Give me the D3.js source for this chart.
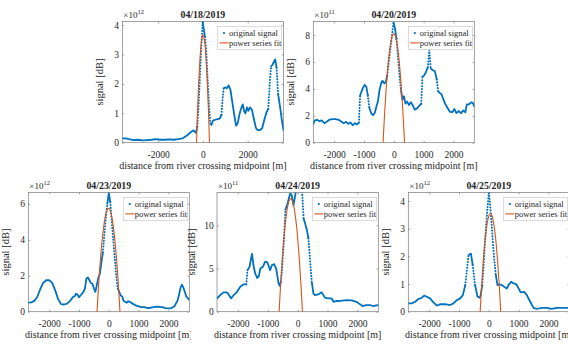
<!DOCTYPE html>
<meta charset="utf-8">
<script src="https://cdn.jsdelivr.net/npm/d3@7"></script>
<style>
  body { margin: 0; background: #fff; }
  svg text { font-family: "Liberation Serif", "Times New Roman", serif; fill: #262626; }
</style>
<div id="chart"></div>
<script>
  // ---- data ----
  const dates = ["04/18/2019", "04/20/2019", "04/23/2019", "04/24/2019", "04/25/2019"]
  const exponents = [12, 11, 12, 11, 12]
  const xLimits = [3600, 2700, 2700, 2700, 2700]
  const yLimits = [4.12, 9, 6.63, 13.8, 4.31]
  const xTicks = [
    [-2000, 0, 2000],
    [-2000, -1000, 0, 1000, 2000],
    [-2000, -1000, 0, 1000, 2000],
    [-2000, -1000, 0, 1000, 2000],
    [-2000, -1000, 0, 1000, 2000]
  ]
  const yTicks = [[0, 1, 2, 3, 4], [0, 2, 4, 6, 8], [0, 2, 4, 6], [0, 5, 10], [0, 1, 2, 3, 4]]
  const legendLabels = ["original signal", "power series fit"]
  const xLabel = "distance from river crossing midpoint [m]"
  const yLabel = "signal [dB]"

  // 04/18
  const dist0418 = [-3600, -3450, -3300, -3100, -2900, -2700, -2500, -2300, -2100, -1900, -1700, -1500, -1300, -1100, -1000,
    -900, -800, -700, -600, -500, -420, -370, -310, -250, -190, -130, -90, -40, -10, 40,
    90, 150, 200, 270, 330, 380, 450, 550, 650, 750, 830, 880, 930, 1000, 1070,
    1150, 1230, 1300, 1400, 1480, 1550, 1630, 1700, 1780, 1850, 1900, 1970, 2030, 2100, 2190,
    2270, 2370, 2450, 2550, 2650, 2750, 2850, 2920, 3000, 3050, 3110, 3190, 3230, 3290, 3360,
    3450, 3520, 3600]
  const sig0418 = [0.15, 0.15, 0.12, 0.09, 0.1, 0.08, 0.09, 0.1, 0.12, 0.1, 0.1, 0.11, 0.1, 0.12, 0.14,
    0.15, 0.2, 0.25, 0.32, 0.38, 0.42, 0.38, 0.33, 0.55, 1.3, 2.3, 3.0, 3.7, 4.1, 3.86,
    3.6, 3.12, 2.32, 1.3, 0.66, 0.6, 0.75, 0.78, 0.8, 0.82, 0.95, 1.5, 1.85, 1.88, 1.85,
    1.95, 1.8, 1.45, 0.95, 0.58, 0.65, 0.95, 1.15, 1.3, 1.05, 1.0, 1.2, 1.08, 1.2, 1.12,
    0.83, 0.5, 0.43, 0.43, 0.5, 0.8, 1.05, 1.15, 2.2, 2.6, 2.65, 2.78, 2.83, 2.55, 1.65,
    1.2, 0.8, 0.42]
  const fitDist0418 = [-290, -250, -200, -150, -100, -50, 0, 50, 100, 150, 200, 250, 300]
  const fit0418 = [-0.13, 0.83, 1.83, 2.61, 3.17, 3.52, 3.65, 3.56, 3.26, 2.74, 2.0, 1.05, -0.13]

  // 04/20
  const dist0420 = [-2700, -2650, -2580, -2500, -2420, -2330, -2250, -2150, -2050, -1950, -1850, -1750, -1680, -1600, -1530,
    -1450, -1380, -1300, -1230, -1170, -1130, -1050, -980, -920, -870, -820, -760, -700, -640, -580,
    -530, -480, -420, -380, -320, -270, -220, -170, -120, -60, -10, 40, 90, 140, 190,
    240, 290, 340, 390, 450, 510, 570, 630, 700, 780, 860, 920, 960, 1020, 1080,
    1140, 1190, 1240, 1300, 1380, 1440, 1490, 1540, 1600, 1650, 1720, 1800, 1880, 1960, 2030,
    2100, 2180, 2250, 2330, 2400, 2450, 2520, 2600, 2650, 2700]
  const sig0420 = [1.4, 1.65, 1.7, 1.6, 1.65, 1.45, 1.55, 1.72, 1.75, 1.75, 1.7, 1.55, 1.45, 1.55, 1.4,
    1.5, 1.3, 1.45, 1.35, 1.5, 3.5, 4.0, 4.3, 4.15, 3.5, 2.6, 2.2, 2.05, 2.2, 2.7,
    3.1, 3.9, 4.45, 4.6, 4.4, 4.5, 5.0, 6.0, 6.9, 8.0, 8.9, 8.5, 7.7, 6.4, 5.0,
    3.9, 3.2, 3.45, 2.9, 3.05, 2.8, 3.0, 2.8, 2.45, 2.55, 2.75, 2.9, 4.9, 5.0, 5.25,
    5.6, 6.9, 5.5, 5.4, 5.3, 4.7, 3.8, 3.7, 3.6, 3.3, 2.9, 2.6, 2.3, 2.25, 2.5,
    2.2, 2.35, 2.2, 2.4, 2.25, 2.85, 2.85, 3.0, 2.95, 2.7]
  const fitDist0420 = [-380, -350, -300, -250, -200, -150, -100, -50, 0, 50, 100, 150, 200, 250, 300, 350, 380]
  const fit0420 = [-0.93, 0.45, 2.48, 4.19, 5.6, 6.69, 7.48, 7.94, 8.1, 7.94, 7.48, 6.69, 5.6, 4.19, 2.48, 0.45, -0.93]

  // 04/23
  const dist0423 = [-2700, -2600, -2500, -2400, -2300, -2200, -2100, -2000, -1900, -1800, -1700, -1600, -1500, -1400, -1300,
    -1200, -1150, -1100, -1050, -1000, -950, -850, -800, -750, -700, -650, -600, -550, -500, -450,
    -400, -350, -300, -250, -200, -150, -100, -50, 0, 50, 100, 150, 200, 250, 300,
    350, 400, 450, 500, 600, 650, 700, 800, 900, 1000, 1100, 1200, 1300, 1400, 1500,
    1600, 1700, 1800, 1900, 2000, 2100, 2200, 2300, 2350, 2400, 2450, 2500, 2550, 2600, 2700]
  const sig0423 = [0.5, 0.52, 0.6, 0.82, 1.25, 1.6, 1.75, 1.75, 1.6, 1.2, 0.7, 0.42, 0.4, 0.45, 0.6,
    0.82, 0.85, 1.0, 0.95, 0.8, 0.9, 1.1, 1.3, 1.85, 1.9, 1.75, 1.6, 1.55, 1.3, 1.1,
    1.5, 1.9, 2.1, 2.7, 3.3, 4.3, 5.2, 6.0, 6.6, 6.1, 5.0, 4.0, 3.0, 2.0, 1.3,
    1.1, 0.9, 0.85, 0.6, 0.5, 0.58, 0.55, 0.45, 0.35, 0.3, 0.25, 0.25, 0.2, 0.22, 0.25,
    0.28, 0.27, 0.25, 0.2, 0.18, 0.2, 0.3, 0.6, 0.9, 1.3, 1.5, 1.35, 1.1, 0.85, 0.65]
  const fitDist0423 = [-420, -350, -300, -250, -200, -150, -100, -50, 0, 50, 100, 150, 200, 250, 300, 350, 400]
  const fit0423 = [-0.77, 1.27, 2.49, 3.52, 4.35, 4.99, 5.44, 5.69, 5.75, 5.61, 5.28, 4.76, 4.04, 3.13, 2.02, 0.72, -0.77]

  // 04/24
  const dist0424 = [-2700, -2590, -2480, -2370, -2310, -2230, -2140, -2030, -1920, -1810, -1720, -1680, -1610, -1530, -1480,
    -1420, -1350, -1300, -1250, -1160, -1090, -1010, -920, -860, -790, -720, -640, -600, -560, -520,
    -450, -410, -340, -250, -200, -140, -80, -30, 60, 130, 160, 200, 250, 310, 360,
    420, 470, 530, 580, 690, 800, 920, 1030, 1140, 1200, 1310, 1470, 1640, 1810, 1970,
    2090, 2170, 2310, 2420, 2530, 2700]
  const sig0424 = [1.54, 1.93, 2.24, 2.24, 2.0, 1.54, 1.93, 2.3, 2.9, 3.17, 3.17, 4.8, 5.2, 6.7, 5.4,
    4.4, 3.9, 4.1, 5.0, 5.2, 5.8, 5.7, 4.8, 5.4, 5.5, 5.0, 3.3, 3.0, 3.5, 5.0,
    8.9, 11.8, 12.5, 13.7, 13.5, 12.3, 13.5, 14.8, 15.5, 14.2, 13.3, 10.8, 10.2, 9.45, 8.5,
    5.8, 3.5, 2.1, 1.93, 2.0, 2.25, 1.6, 1.54, 1.54, 1.15, 1.24, 1.27, 1.35, 1.3, 1.15,
    0.85, 0.66, 0.77, 0.77, 0.66, 0.77]
  const fitDist0424 = [-640, -600, -550, -500, -450, -400, -350, -300, -250, -200, -150, -100, -50, 0, 50, 100, 150, 180]
  const fit0424 = [-1.38, 1.31, 4.28, 6.82, 8.93, 10.61, 11.86, 12.68, 13.07, 13.02, 12.55, 11.64, 10.31, 8.54, 6.35, 3.72, 0.67, -1.38]

  // 04/25
  const dist0425 = [-2700, -2580, -2470, -2360, -2250, -2170, -2080, -1970, -1860, -1740, -1630, -1460, -1300, -1185, -1070,
    -960, -870, -790, -740, -680, -600, -540, -460, -380, -310, -270, -220, -180, -135, -90,
    -45, 0, 45, 90, 135, 180, 235, 290, 360, 440, 515, 600, 680, 750, 830,
    920, 1000, 1070, 1185, 1275, 1390, 1500, 1610, 1780, 1945, 2110, 2280, 2450, 2615, 2700]
  const sig0425 = [0.3, 0.3, 0.36, 0.46, 0.5, 0.58, 0.54, 0.48, 0.34, 0.22, 0.27, 0.27, 0.24, 0.3, 0.42,
    0.48, 0.6, 0.96, 1.45, 2.05, 2.1, 1.69, 0.96, 0.55, 0.5, 0.6, 0.96, 1.57, 2.41, 3.13,
    3.73, 4.3, 3.86, 3.25, 2.53, 1.93, 1.33, 0.96, 0.99, 0.96, 0.9, 0.84, 0.99, 1.08, 1.02,
    1.0, 0.84, 0.7, 0.72, 0.6, 0.36, 0.14, 0.1, 0.14, 0.14, 0.1, 0.14, 0.14, 0.14, 0.13]
  const fitDist0425 = [-300, -250, -200, -150, -100, -50, 0, 50, 100, 150, 200, 250, 300, 350, 400, 420]
  const fit0425 = [-0.21, 0.78, 1.61, 2.3, 2.83, 3.22, 3.46, 3.55, 3.49, 3.28, 2.92, 2.42, 1.76, 0.96, 0, -0.42]

  const series = [
    { dist: dist0418, sig: sig0418, fitDist: fitDist0418, fit: fit0418 },
    { dist: dist0420, sig: sig0420, fitDist: fitDist0420, fit: fit0420 },
    { dist: dist0423, sig: sig0423, fitDist: fitDist0423, fit: fit0423 },
    { dist: dist0424, sig: sig0424, fitDist: fitDist0424, fit: fit0424 },
    { dist: dist0425, sig: sig0425, fitDist: fitDist0425, fit: fit0425 }
  ]

  // ---- layout ----
  const panels = [
    { left: 122.3, top: 21.5, width: 161.2, height: 121.2, ylab: -19 },
    { left: 313.3, top: 21.5, width: 161, height: 121.2, ylab: -19 },
    { left: 28.3, top: 192.5, width: 161, height: 119.2, ylab: -19 },
    { left: 217, top: 192.5, width: 161.3, height: 119.2, ylab: -22 },
    { left: 408.3, top: 192.5, width: 161, height: 119.2, ylab: -19 }
  ]

  const blue = "#0072BD"
  const orange = "#D95319"
  const axisColor = "#7a7a7a"

  const svg = d3.select("#chart")
    .append("svg")
    .attr("width", 568)
    .attr("height", 344)

  panels.forEach((p, k) => {
    const s = series[k]
    const g = svg.append("g").attr("transform", `translate(${p.left},${p.top})`)

    // white figure background (later figures sit over earlier ones)
    g.append("rect")
      .attr("x", -26).attr("y", -22)
      .attr("width", p.width + 30).attr("height", p.height + 52)
      .attr("fill", "#fff")

    const x = d3.scaleLinear().domain([-xLimits[k], xLimits[k]]).range([0, p.width])
    const y = d3.scaleLinear().domain([0, yLimits[k]]).range([p.height, 0])

    // axes, ticks pointing inwards on all four sides
    const fmt = d => String(d)
    const bottom = g.append("g").attr("transform", `translate(0,${p.height})`)
      .call(d3.axisBottom(x).tickValues(xTicks[k]).tickSize(-1.8).tickPadding(8.2).tickFormat(fmt))
    const left = g.append("g")
      .call(d3.axisLeft(y).tickValues(yTicks[k]).tickSize(-1.8).tickPadding(3.2).tickFormat(fmt))
    const top = g.append("g")
      .call(d3.axisTop(x).tickValues(xTicks[k]).tickSize(-1.8).tickFormat(""))
    const right = g.append("g").attr("transform", `translate(${p.width},0)`)
      .call(d3.axisRight(y).tickValues(yTicks[k]).tickSize(-1.8).tickFormat(""))
    ;[bottom, left, top, right].forEach(a => {
      a.select(".domain").remove()
      a.selectAll("line").attr("stroke", axisColor).attr("stroke-width", 0.7)
      a.selectAll("text").style("font-size", "9.5px").attr("fill", "#262626")
    })

    g.append("rect")
      .attr("width", p.width).attr("height", p.height)
      .attr("fill", "none").attr("stroke", axisColor).attr("stroke-width", 0.7)

    // clipped plot area
    g.append("clipPath").attr("id", "clip" + k)
      .append("rect").attr("width", p.width).attr("height", p.height)
    const plot = g.append("g").attr("clip-path", `url(#clip${k})`)

    // original signal: solid where flat, dotted where the samples spread out
    const pts = s.dist.map((d, i) => [x(d), y(s.sig[i])])
    const runs = []
    for (let i = 1; i < pts.length; i++) {
      const dx = Math.abs(pts[i][0] - pts[i - 1][0])
      const dy = Math.abs(pts[i][1] - pts[i - 1][1])
      const steep = dy > 8 * dx && dy > 6
      const last = runs[runs.length - 1]
      if (last && last.steep === steep) last.pts.push(pts[i])
      else runs.push({ steep, pts: [pts[i - 1], pts[i]] })
    }
    const line = d3.line()
    runs.forEach(r => {
      plot.append("path")
        .attr("d", line(r.pts))
        .attr("fill", "none")
        .attr("stroke", blue)
        .attr("stroke-width", r.steep ? 2 : 1.8)
        .attr("stroke-linecap", "round")
        .attr("stroke-linejoin", "round")
        .attr("stroke-dasharray", r.steep ? "0.1 2.8" : null)
    })

    // power series fit
    plot.append("path")
      .attr("d", d3.line().curve(d3.curveNatural)(s.fitDist.map((d, i) => [x(d), y(s.fit[i])])))
      .attr("fill", "none")
      .attr("stroke", orange)
      .attr("stroke-width", 1.1)

    // legend
    const lg = g.append("g").attr("transform", `translate(${p.width - 66},4.8)`)
    lg.append("rect")
      .attr("width", 64).attr("height", 23.4)
      .attr("fill", "#fff").attr("stroke", "#c4c4c4").attr("stroke-width", 0.6)
    lg.append("circle").attr("cx", 6.5).attr("cy", 6.8).attr("r", 1.1).attr("fill", blue)
    lg.append("line").attr("x1", 2).attr("x2", 11).attr("y1", 16.6).attr("y2", 16.6)
      .attr("stroke", orange).attr("stroke-width", 1.1)
    legendLabels.forEach((t, i) => {
      lg.append("text")
        .attr("x", 11.5).attr("y", 6.8 + i * 9.8).attr("dy", "0.33em")
        .style("font-size", "8.5px")
        .text(t)
    })

    // title, exponent, axis labels
    g.append("text")
      .attr("x", p.width / 2).attr("y", -3.2)
      .attr("text-anchor", "middle")
      .style("font-size", "9.8px").style("font-weight", "bold")
      .text(dates[k])

    const ex = g.append("text").attr("x", 1).attr("y", -3.6).style("font-size", "9px")
    ex.append("tspan").text("\u00d710")
    ex.append("tspan").attr("dy", -3.6).style("font-size", "6.5px").text(exponents[k])

    g.append("text")
      .attr("x", p.width / 2).attr("y", p.height + 26.6)
      .attr("text-anchor", "middle")
      .style("font-size", "10px")
      .text(xLabel)

    g.append("text")
      .attr("transform", `translate(${p.ylab},${p.height / 2}) rotate(-90)`)
      .attr("text-anchor", "middle")
      .style("font-size", "10.5px")
      .text(yLabel)
  })
</script>
